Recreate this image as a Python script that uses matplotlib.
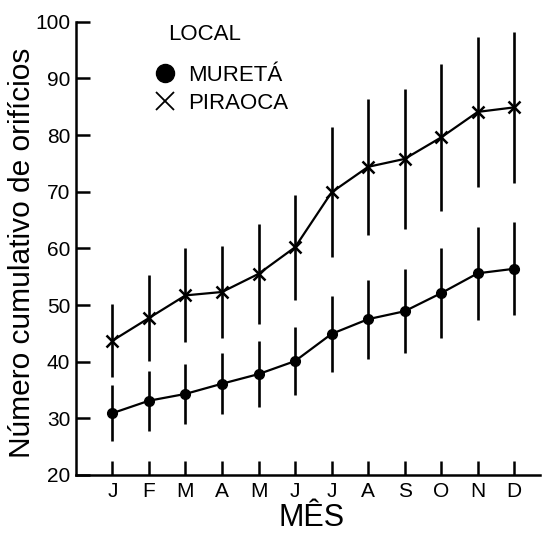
import matplotlib.pyplot as plt
from matplotlib.lines import Line2D

plt.rcParams['font.family'] = ['Liberation Sans', 'DejaVu Sans']

# months (Portuguese initials)
meses = ['J', 'F', 'M', 'A', 'M', 'J', 'J', 'A', 'S', 'O', 'N', 'D']
x = list(range(1, 13))

# Piraoca: means and error half-widths
piraoca = [43.7, 47.7, 51.7, 52.3, 55.5, 60.2, 69.9, 74.4, 75.8, 79.6, 84.1, 84.9]
piraoca_err = [6.4, 7.6, 8.3, 8.2, 8.8, 9.3, 11.5, 12.0, 12.3, 13.0, 13.2, 13.3]

# Mureta
mureta = [30.9, 33.1, 34.3, 36.1, 37.8, 40.1, 44.9, 47.5, 48.9, 52.1, 55.6, 56.4]
mureta_err = [5.0, 5.3, 5.3, 5.4, 5.8, 6.0, 6.7, 7.0, 7.4, 7.9, 8.2, 8.2]

fig = plt.figure(figsize=(5.42, 5.33), dpi=100)
ax = fig.add_axes([0.140, 0.109, 0.856, 0.850])

ax.errorbar(x, piraoca, yerr=piraoca_err, color='black', marker='x', markersize=8,
            markeredgewidth=1.8, linewidth=1.6, elinewidth=1.9, capsize=0)
ax.errorbar(x, mureta, yerr=mureta_err, color='black', marker='o', markersize=7,
            linewidth=1.6, elinewidth=1.9, capsize=0)

ax.set_xlim(0, 12.7)
ax.set_ylim(20, 100)
ax.set_xticks(x)
ax.set_xticklabels(meses)
ax.set_yticks(range(20, 101, 10))

for s in ['top', 'right']:
    ax.spines[s].set_visible(False)
for s in ['left', 'bottom']:
    ax.spines[s].set_linewidth(1.8)

ax.tick_params(axis='both', direction='in', length=10, width=1.8, labelsize=15)
ax.tick_params(axis='x', pad=5)
ax.tick_params(axis='y', pad=4)

ax.set_xlabel('MÊS', fontsize=22)
ax.xaxis.set_label_coords(0.509, -0.061)
ax.set_ylabel('Número cumulativo de orifícios', fontsize=21.5)
ax.yaxis.set_label_coords(-0.087, 0.49)

# legend: title drawn separately so the gap below it matches
ax.text(0.198, 0.971, 'LOCAL', transform=ax.transAxes, fontsize=16,
        ha='left', va='center')
handles = [
    Line2D([], [], color='black', marker='o', markersize=13, linestyle='none'),
    Line2D([], [], color='black', marker='x', markersize=13, markeredgewidth=1.3, linestyle='none'),
]
ax.legend(handles, ['MURETÁ', 'PIRAOCA'], loc='upper left',
          bbox_to_anchor=(0.127, 0.949), frameon=False, fontsize=16,
          handlelength=0.9, handletextpad=0.6, labelspacing=0.3)

fig.savefig('out.png', dpi=100)
